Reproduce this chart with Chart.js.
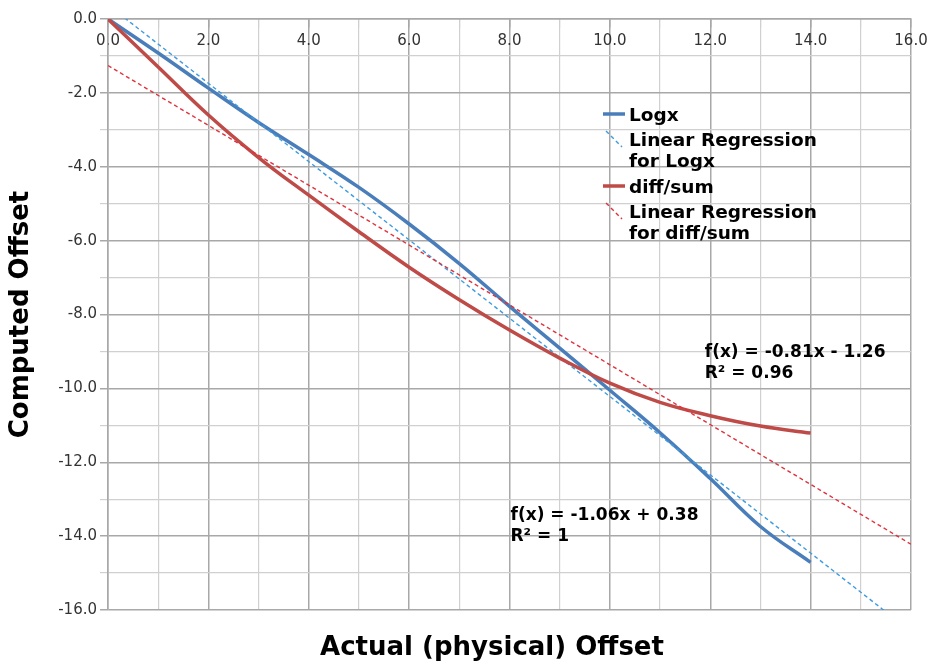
<!DOCTYPE html>
<html>
<head>
<meta charset="utf-8">
<script src="https://cdn.jsdelivr.net/npm/chart.js@4/dist/chart.umd.min.js"></script>
<style>
  html, body { margin: 0; padding: 0; background: #fff; }
  #wrap { width: 935px; height: 662px; }
</style>
</head>
<body>
<div id="wrap"><canvas id="chart" width="935" height="662"></canvas></div>
<script>
// data
const xValues = [0, 1, 2, 3, 4, 5, 6, 7, 8, 9, 10, 11, 12, 13, 14];
const logxValues = [0, -0.92, -1.87, -2.8, -3.67, -4.56, -5.55, -6.62, -7.78, -8.91, -10.05, -11.2, -12.44, -13.74, -14.71];
const diffSumValues = [0, -1.3, -2.6, -3.75, -4.77, -5.76, -6.72, -7.6, -8.42, -9.18, -9.86, -10.38, -10.74, -11.02, -11.21];

// regression line end points
const regX = [0, 16];
const regLogxValues = [0.38, -16.58];
const regDiffSumValues = [-1.26, -14.22];

const seriesNames = ['Logx', 'Linear Regression\nfor Logx', 'diff/sum', 'Linear Regression\nfor diff/sum'];
const regLabels = [
    ['f(x) = -1.06x + 0.38', 'R² = 1'],
    ['f(x) = -0.81x - 1.26', 'R² = 0.96']
];
const axisTitles = ['Actual (physical) Offset', 'Computed Offset'];

const FONT = "'DejaVu Sans', 'Liberation Sans', sans-serif";

function toPoints(xs, ys) {
    return xs.map((x, i) => ({x: x, y: ys[i]}));
}

document.addEventListener('DOMContentLoaded', function() {
    initChart()
});

function isMajor(ctx) {
    return ctx.tick && Math.round(ctx.tick.value) % 2 === 0;
}

function initChart() {
    let data = {
        datasets: [{
            label: seriesNames[0],
            data: toPoints(xValues, logxValues),
            borderColor: '#4a7ebb',
            borderWidth: 3.5,
            pointRadius: 0,
            tension: 0.4,
            order: 4
        }, {
            label: seriesNames[1],
            data: toPoints(regX, regLogxValues),
            borderColor: '#3d9be0',
            borderWidth: 1.4,
            borderDash: [4, 3],
            pointRadius: 0,
            order: 3
        }, {
            label: seriesNames[2],
            data: toPoints(xValues, diffSumValues),
            borderColor: '#be4b48',
            borderWidth: 3.5,
            pointRadius: 0,
            tension: 0.4,
            order: 2
        }, {
            label: seriesNames[3],
            data: toPoints(regX, regDiffSumValues),
            borderColor: '#e0323c',
            borderWidth: 1.4,
            borderDash: [4, 3],
            pointRadius: 0,
            order: 1
        }]
    };

    // legend, regression labels and x title drawn on the canvas
    const extras = {
        id: 'extras',
        afterDraw(chart) {
            const c = chart.ctx;
            const xs = chart.scales.x, ys = chart.scales.y;
            const ds = chart.data.datasets;
            c.save();
            c.fillStyle = '#000';
            c.textBaseline = 'middle';
            c.textAlign = 'left';

            // legend
            c.font = 'bold 18.5px ' + FONT;
            const rows = [116, 141, 188, 213];
            ds.forEach((d, i) => {
                const y = rows[i];
                c.strokeStyle = d.borderColor;
                c.lineWidth = d.borderWidth;
                c.beginPath();
                if (d.borderDash) {
                    c.setLineDash(d.borderDash);
                    c.moveTo(606, y - 10);
                    c.lineTo(622, y + 6);
                } else {
                    c.setLineDash([]);
                    c.moveTo(603, y - 2);
                    c.lineTo(625, y - 2);
                }
                c.stroke();
                d.label.split('\n').forEach((t, k) => {
                    c.fillText(t, 629, y + k * 21);
                });
            });

            // regression equations
            c.font = 'bold 17px ' + FONT;
            const anchors = [[8.02, -13.45], [11.89, -9.04]];
            regLabels.forEach((lines, i) => {
                const px = xs.getPixelForValue(anchors[i][0]);
                const py = ys.getPixelForValue(anchors[i][1]);
                lines.forEach((t, k) => c.fillText(t, px, py + k * 21));
            });

            // x axis title
            c.font = 'bold 26px ' + FONT;
            c.textAlign = 'center';
            c.fillText(axisTitles[0], 492, 648);
            c.restore();
        }
    };

    const grid = {
        color: ctx => isMajor(ctx) ? '#a8a8a8' : '#d0d0d0',
        lineWidth: ctx => isMajor(ctx) ? 1.5 : 1.2,
        tickLength: 8
    };

    let options = {
        responsive: false,
        animation: false,
        layout: {
            padding: {left: 2, top: 19, right: 24, bottom: 52}
        },
        plugins: {
            legend: {display: false},
            tooltip: {enabled: false}
        },
        scales: {
            x: {
                type: 'linear',
                position: {y: 0},
                min: 0,
                max: 16,
                grid: grid,
                border: {color: '#a8a8a8', width: 1.5},
                ticks: {
                    stepSize: 1,
                    autoSkip: false,
                    maxRotation: 0,
                    padding: 5,
                    color: '#333',
                    font: {size: 15, family: FONT},
                    callback: v => Math.round(v) % 2 === 0 ? v.toFixed(1) : ''
                }
            },
            y: {
                type: 'linear',
                position: 'left',
                min: -16,
                max: 0,
                grid: grid,
                border: {color: '#a8a8a8', width: 1.5},
                title: {
                    display: true,
                    text: axisTitles[1],
                    color: '#000',
                    font: {size: 26, weight: 'bold', family: FONT},
                    padding: {top: 4, bottom: 18}
                },
                ticks: {
                    stepSize: 1,
                    autoSkip: false,
                    padding: 3,
                    color: '#333',
                    font: {size: 15, family: FONT},
                    callback: v => Math.round(v) % 2 === 0 ? v.toFixed(1) : ''
                }
            }
        }
    };

    let ctx = document.getElementById('chart').getContext('2d');
    const chart = new Chart(ctx, {
        type: 'line',
        data: data,
        options: options,
        plugins: [extras]
    });
}
</script>
</body>
</html>
